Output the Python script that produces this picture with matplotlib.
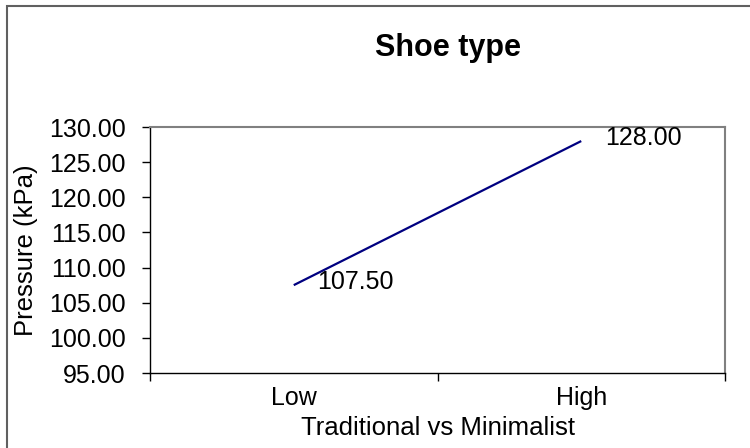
#!/usr/bin/env python3
"""
Shoe type: pressure for traditional vs minimalist shoes.
"""

import numpy as np
import matplotlib
matplotlib.use("Agg")
import matplotlib.pyplot as plt
from matplotlib.patches import Rectangle
from matplotlib.ticker import FormatStrFormatter, FixedLocator

categories = ["Low", "High"]
pressure = [107.50, 128.00]
y_ticks = [95, 100, 105, 110, 115, 120, 125, 130]

plt.rcParams["font.family"] = ["Liberation Sans", "DejaVu Sans"]

fig = plt.figure(figsize=(7.5, 4.48), dpi=100)
ax = fig.add_axes([150 / 750, 1 - 373 / 448, 575 / 750, 246 / 448])

x = np.arange(len(categories))
ax.plot(x, pressure, color="#000080", lw=1.6, solid_capstyle="butt")

# data labels to the right of each point
for xi, yi in zip(x, pressure):
    ax.annotate(f"{yi:.2f}", (xi, yi), xytext=(17, 2.5), textcoords="offset points",
                ha="left", va="center", fontsize=18, color="black")

ax.set_xlim(-0.5, len(categories) - 0.5)
ax.set_ylim(y_ticks[0], y_ticks[-1])
ax.set_yticks(y_ticks)
ax.yaxis.set_major_formatter(FormatStrFormatter("%.2f"))

# category axis: ticks between categories, labels at centres
ax.xaxis.set_major_locator(FixedLocator(np.arange(len(categories) + 1) - 0.5))
ax.xaxis.set_major_formatter(plt.NullFormatter())
ax.set_xticks(x, minor=True)
ax.set_xticklabels(categories, minor=True)
ax.tick_params(axis="x", which="minor", length=0, pad=9, labelsize=18)
ax.tick_params(axis="x", which="major", length=5.5, width=1, direction="out")
ax.tick_params(axis="y", length=5.5, width=1, direction="out", pad=12, labelsize=18)

for side in ["top", "right"]:
    ax.spines[side].set_color("#808080")
    ax.spines[side].set_linewidth(1.5)
for side in ["left", "bottom"]:
    ax.spines[side].set_color("black")
    ax.spines[side].set_linewidth(1)

ax.set_xlabel("Traditional vs Minimalist", fontsize=18.5)
ax.xaxis.set_label_coords(0.5, (373 - 428) / 246)
ax.xaxis.label.set_va("center")
ax.set_ylabel("Pressure (kPa)", fontsize=18.5)
ax.yaxis.set_label_coords((26 - 150) / 575, 0.5)
ax.yaxis.label.set_va("center")

fig.text(448 / 750, 1 - 48 / 448, "Shoe type", fontsize=22, fontweight="bold",
         ha="center", va="center")

# chart border
fig.patches.append(Rectangle((7 / 750, -0.1), 1.2, 1 - 6 / 448 + 0.1,
                             transform=fig.transFigure, fill=False,
                             edgecolor="#606060", lw=1.5))

fig.savefig("out.png", dpi=100)
